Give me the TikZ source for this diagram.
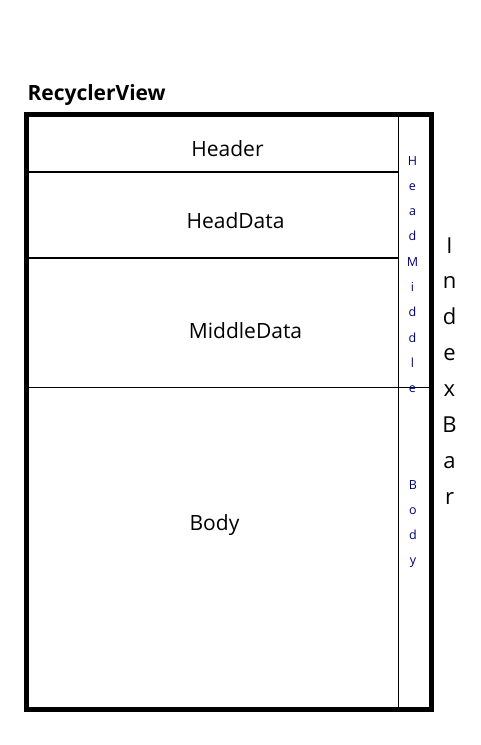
\documentclass[tikz,border=0pt]{standalone}
\usepackage{fontspec}
\setmainfont{Open Sans}
\tikzset{
    every picture/.style={
        line width=1pt
    },
    % Style for centered labels
    area label/.style={
        font=\fontsize{21}{21}\selectfont,
        anchor=base
    },
    % Styles for the stacked letters
    index letter/.style={
        font=\fontsize{12.5}{12.5}\selectfont,
        text=indexBlue,
        anchor=base,
        inner sep=0pt
    },
    bar letter/.style={
        font=\fontsize{22}{22}\selectfont,
        anchor=base,
        inner sep=0pt
    }
}
\definecolor{indexBlue}{RGB}{0,0,110}

\begin{document}
\begin{tikzpicture}[x=1pt,y=-1pt]

% Set the canvas size
\path[use as bounding box] (0,0) rectangle (480,745);

% Title
\node[font=\fontsize{21}{21}\selectfont\bfseries, anchor=base west, inner sep=0pt] (title) at (27,100.7) {RecyclerView};

% Draw the inner lines
\draw[line width=2pt] (26.5,171.7) -- (398.5,171.7);
\draw[line width=2pt] (26.5,257.7) -- (398.5,257.7);
\draw(26.5,387) -- (431.5,387);
\draw[line width=1.5pt] (398.5,114.5) -- (398.5,709.8);

% Outer frame
\draw[line width=5pt] (26.5,114.5) rectangle (431.5,709.8);

% Area labels
\node[area label] (header) at (227.5,156) {Header};
\node[area label] (headData) at (235.5,228.3) {HeadData};
\node[area label] (middleData) at (245.5,338) {MiddleData};
\node[area label] (body) at (214.5,530) {Body};

% Letters in the index column
\foreach \ch [count=\i] in {H,e,a,d,M,i,d,d,l,e}
    \node[index letter] (headMiddle\i) at (412.5,165+25.3*\i-25.3) {\ch};
\foreach \ch [count=\i] in {B,o,d,y}
    \node[index letter] (bodyIndex\i) at (413,489+25.3*\i-25.3) {\ch};

% IndexBar to the right
\foreach \ch [count=\i] in {I,n,d,e,x,B,a,r}
    \node[bar letter] (bar\i) at (449.5,253+35.9*\i-35.9) {\ch};

\end{tikzpicture}
\end{document}
